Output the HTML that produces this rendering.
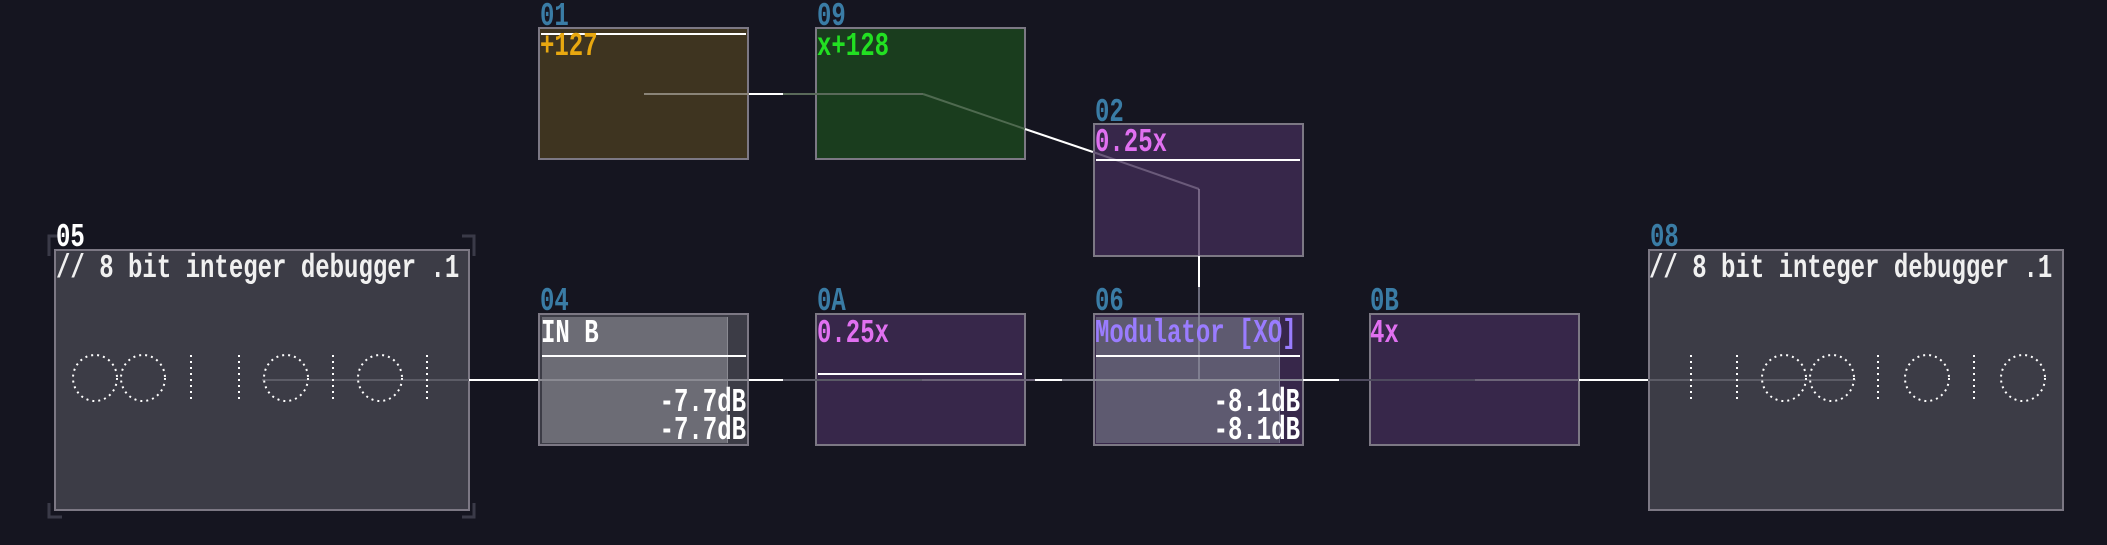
<!DOCTYPE html>
<html><head><meta charset="utf-8"><style>
html,body{margin:0;padding:0;background:#151520;}
body{width:2107px;height:545px;position:relative;overflow:hidden;font-family:"Liberation Mono","DejaVu Sans Mono",monospace;}
.b{position:absolute;box-sizing:border-box;border:2px solid #7c7884;}
.t{position:absolute;font-size:24px;line-height:24px;white-space:pre;transform:scaleY(1.4);transform-origin:0 0;font-weight:bold;margin-top:5px;}
.lbl{color:#3a7ca5;}
.r{text-align:right;transform-origin:100% 0;}
</style></head><body>

<!-- boxes -->
<div class="b" style="left:538px;top:27px;width:211px;height:133px;background:#3e3420;"></div>
<div class="b" style="left:815px;top:27px;width:211px;height:133px;background:#1a3d1e;"></div>
<div class="b" style="left:1093px;top:123px;width:211px;height:134px;background:#37274a;"></div>
<div class="b" style="left:54px;top:249px;width:416px;height:262px;background:#3c3c46;"></div>
<div class="b" style="left:538px;top:313px;width:211px;height:133px;background:#3c3c46;"></div>
<div style="position:absolute;left:542px;top:317px;width:185px;height:126px;background:#6c6c75;border-right:1px solid #8a8a92;"></div>
<div class="b" style="left:815px;top:313px;width:211px;height:133px;background:#37274a;"></div>
<div class="b" style="left:1093px;top:313px;width:211px;height:133px;background:#37274a;"></div>
<div style="position:absolute;left:1096px;top:317px;width:183px;height:126px;background:#5e5a70;border-right:1px solid #7a7690;"></div>
<div class="b" style="left:1369px;top:313px;width:211px;height:133px;background:#37274a;"></div>
<div class="b" style="left:1648px;top:249px;width:416px;height:262px;background:#3c3c46;"></div>

<svg width="2107" height="545" style="position:absolute;left:0;top:0">
<g fill="none" stroke="#3a3a48" stroke-width="3">
<path d="M49 256 V236 H62"/><path d="M462 236 H474 V256"/><path d="M49 503 V517 H62"/><path d="M462 517 H474 V503"/>
</g>
<line x1="644" y1="94" x2="749" y2="94" stroke="#8a8478" stroke-width="2"/>
<line x1="749" y1="94" x2="783" y2="94" stroke="#fff" stroke-width="2"/>
<line x1="783" y1="94" x2="923" y2="94" stroke="#5a6a5a" stroke-width="2"/>
<line x1="923" y1="94" x2="1025" y2="129" stroke="#4f6a50" stroke-width="2"/>
<line x1="1025" y1="129" x2="1093" y2="152" stroke="#fff" stroke-width="2"/>
<line x1="1093" y1="152" x2="1199" y2="189" stroke="#6a5a7a" stroke-width="2"/>
<line x1="1199" y1="189" x2="1199" y2="256" stroke="#8a7a98" stroke-width="1.5"/>
<line x1="1199" y1="256" x2="1199" y2="287" stroke="#fff" stroke-width="2"/>
<line x1="1199" y1="287" x2="1199" y2="380" stroke="#8a8a9a" stroke-width="1.5"/>
<line x1="262" y1="380" x2="469" y2="380" stroke="#5c5c66" stroke-width="2"/>
<line x1="469" y1="380" x2="538" y2="380" stroke="#fff" stroke-width="2"/>
<line x1="538" y1="380" x2="749" y2="380" stroke="#8a8a92" stroke-width="2"/>
<line x1="749" y1="380" x2="783" y2="380" stroke="#fff" stroke-width="2"/>
<line x1="783" y1="380" x2="922" y2="380" stroke="#5a5a66" stroke-width="2"/>
<line x1="922" y1="380" x2="1035" y2="380" stroke="#6c6478" stroke-width="2"/>
<line x1="1035" y1="380" x2="1062" y2="380" stroke="#fff" stroke-width="2"/>
<line x1="1062" y1="380" x2="1303" y2="380" stroke="#8a8a96" stroke-width="2"/>
<line x1="1303" y1="380" x2="1339" y2="380" stroke="#fff" stroke-width="2"/>
<line x1="1339" y1="380" x2="1475" y2="380" stroke="#4e4a5e" stroke-width="2"/>
<line x1="1475" y1="380" x2="1579" y2="380" stroke="#6c6478" stroke-width="2"/>
<line x1="1579" y1="380" x2="1648" y2="380" stroke="#fff" stroke-width="2"/>
<line x1="1648" y1="380" x2="1856" y2="380" stroke="#5c5c66" stroke-width="2"/>
<line x1="541" y1="34" x2="746" y2="34" stroke="#fff" stroke-width="2"/>
<line x1="1096" y1="160" x2="1300" y2="160" stroke="#fff" stroke-width="2"/>
<line x1="542" y1="356" x2="746" y2="356" stroke="#fff" stroke-width="2"/>
<line x1="818" y1="374" x2="1022" y2="374" stroke="#fff" stroke-width="2"/>
<line x1="1096" y1="356" x2="1300" y2="356" stroke="#fff" stroke-width="2"/>
<g fill="none" stroke="#fff" stroke-width="2" stroke-dasharray="2 4">
<ellipse cx="95" cy="378" rx="22" ry="23"/>
<ellipse cx="143" cy="378" rx="22" ry="23"/>
<line x1="191" y1="355" x2="191" y2="402"/>
<line x1="239" y1="355" x2="239" y2="402"/>
<ellipse cx="286" cy="378" rx="22" ry="23"/>
<line x1="333" y1="355" x2="333" y2="402"/>
<ellipse cx="380" cy="378" rx="22" ry="23"/>
<line x1="427" y1="355" x2="427" y2="402"/>
<line x1="1691" y1="355" x2="1691" y2="402"/>
<line x1="1737" y1="355" x2="1737" y2="402"/>
<ellipse cx="1784" cy="378" rx="22" ry="23"/>
<ellipse cx="1832" cy="378" rx="22" ry="23"/>
<line x1="1878" y1="355" x2="1878" y2="402"/>
<ellipse cx="1927" cy="378" rx="22" ry="23"/>
<line x1="1974" y1="355" x2="1974" y2="402"/>
<ellipse cx="2023" cy="378" rx="22" ry="23"/>
</g>
</svg>

<div class="t lbl" style="left:540px;top:-4px;">01</div>
<div class="t lbl" style="left:817px;top:-4px;">09</div>
<div class="t lbl" style="left:1095px;top:92px;">02</div>
<div class="t" style="left:56px;top:217px;color:#fff;">05</div>
<div class="t lbl" style="left:540px;top:281px;">04</div>
<div class="t lbl" style="left:817px;top:281px;">0A</div>
<div class="t lbl" style="left:1095px;top:281px;">06</div>
<div class="t lbl" style="left:1370px;top:281px;">0B</div>
<div class="t lbl" style="left:1650px;top:217px;">08</div>

<div class="t" style="left:540px;top:26px;color:#e8a810;">+127</div>
<div class="t" style="left:817px;top:26px;color:#22e022;">x+128</div>
<div class="t" style="left:1095px;top:122px;color:#e070f0;">0.25x</div>
<div class="t" style="left:56px;top:248px;color:#f0f0f0;">// 8 bit integer debugger .1</div>
<div class="t" style="left:1649px;top:248px;color:#f0f0f0;">// 8 bit integer debugger .1</div>
<div class="t" style="left:541px;top:313px;color:#fff;">IN B</div>
<div class="t" style="left:817px;top:313px;color:#e070f0;">0.25x</div>
<div class="t" style="left:1095px;top:313px;color:#9a7cff;">Modulator [XO]</div>
<div class="t" style="left:1370px;top:313px;color:#e070f0;">4x</div>
<div class="t r" style="left:546px;width:200px;top:382px;color:#fff;">-7.7dB</div>
<div class="t r" style="left:546px;width:200px;top:410px;color:#fff;">-7.7dB</div>
<div class="t r" style="left:1100px;width:200px;top:382px;color:#fff;">-8.1dB</div>
<div class="t r" style="left:1100px;width:200px;top:410px;color:#fff;">-8.1dB</div>
</body></html>
